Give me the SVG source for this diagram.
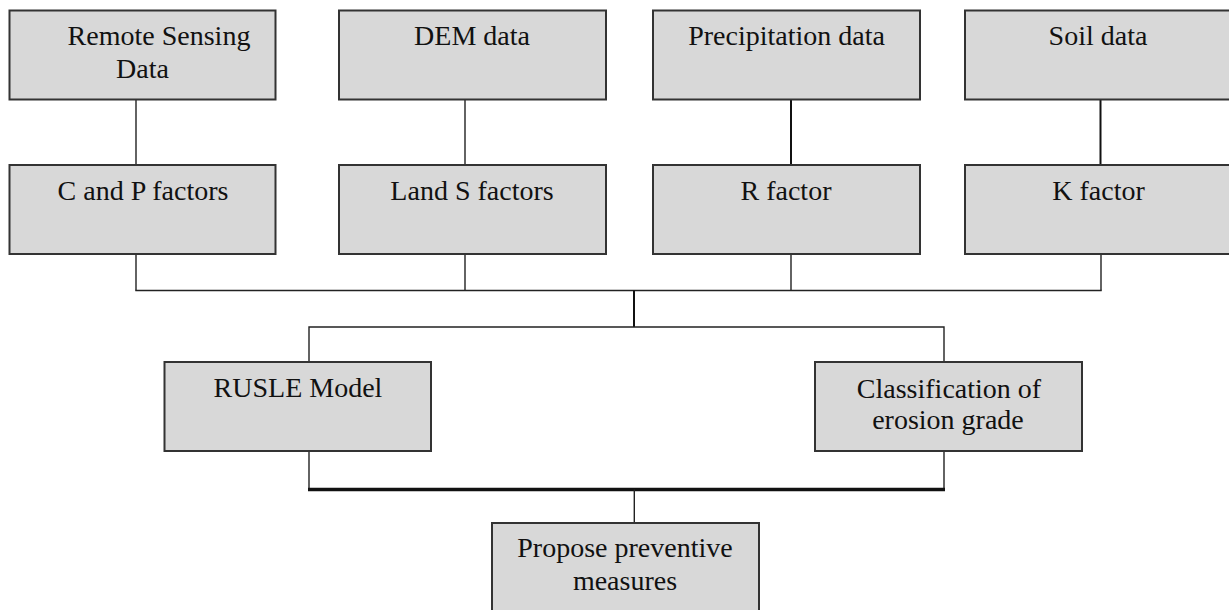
<svg xmlns="http://www.w3.org/2000/svg" width="1229" height="610" viewBox="0 0 1229 610">
<style>
.box{fill:#d8d8d8;stroke:#333;stroke-width:2}
.t{font-family:"Liberation Serif","Times New Roman",serif;font-size:28px;fill:#111;text-anchor:middle}
.c{fill:none;stroke:#222;stroke-width:1.4}
.c2{fill:none;stroke:#111;stroke-width:2}
.c3{fill:none;stroke:#111;stroke-width:3.5}
</style>
<rect width="1229" height="610" fill="#fff"/>
<g id="connectors">
<line class="c" x1="136" y1="100" x2="136" y2="165"/>
<line class="c" x1="465" y1="100" x2="465" y2="165"/>
<line class="c2" x1="791" y1="100" x2="791" y2="165"/>
<line class="c2" x1="1100.5" y1="100" x2="1100.5" y2="165"/>
<line class="c" x1="136" y1="254" x2="136" y2="290.5"/>
<line class="c" x1="465" y1="254" x2="465" y2="290.5"/>
<line class="c" x1="791" y1="254" x2="791" y2="290.5"/>
<line class="c" x1="1101" y1="254" x2="1101" y2="290.5"/>
<line class="c" x1="135.3" y1="290.5" x2="1101.7" y2="290.5"/>
<line class="c2" x1="634" y1="290.5" x2="634" y2="327"/>
<polyline class="c" points="309,362 309,327 944,327 944,362"/>
<line class="c" x1="309" y1="451" x2="309" y2="489.5"/>
<line class="c" x1="944" y1="451" x2="944" y2="489.5"/>
<line class="c3" x1="308" y1="489.5" x2="945" y2="489.5"/>
<line class="c" x1="634.3" y1="489.5" x2="634.3" y2="523"/>
</g>
<g id="remote-sensing">
<rect class="box" x="9.5" y="10.5" width="266" height="89"/>
<text class="t" x="159" y="45">Remote Sensing</text>
<text class="t" x="142.5" y="78">Data</text>
</g>
<g id="dem">
<rect class="box" x="339" y="10.5" width="267" height="89"/>
<text class="t" x="472" y="45">DEM data</text>
</g>
<g id="precipitation">
<rect class="box" x="653" y="10.5" width="267" height="89"/>
<text class="t" x="786.5" y="45">Precipitation data</text>
</g>
<g id="soil">
<rect class="box" x="965" y="10.5" width="268" height="89"/>
<text class="t" x="1098" y="45">Soil data</text>
</g>
<g id="cp">
<rect class="box" x="9.5" y="165" width="266" height="89"/>
<text class="t" x="143" y="200">C and P factors</text>
</g>
<g id="ls">
<rect class="box" x="339" y="165" width="267" height="89"/>
<text class="t" x="472" y="200">Land S factors</text>
</g>
<g id="r">
<rect class="box" x="653" y="165" width="267" height="89"/>
<text class="t" x="786" y="200">R factor</text>
</g>
<g id="k">
<rect class="box" x="965" y="165" width="268" height="89"/>
<text class="t" x="1098.5" y="200">K factor</text>
</g>
<g id="rusle">
<rect class="box" x="164.5" y="362" width="266.5" height="89"/>
<text class="t" x="298" y="397">RUSLE Model</text>
</g>
<g id="classification">
<rect class="box" x="815" y="362" width="267" height="89"/>
<text class="t" x="949" y="397.5">Classification of</text>
<text class="t" x="948" y="429">erosion grade</text>
</g>
<g id="propose">
<rect class="box" x="492" y="523" width="267" height="100"/>
<text class="t" x="625" y="557">Propose preventive</text>
<text class="t" x="625" y="590">measures</text>
</g>
</svg>
